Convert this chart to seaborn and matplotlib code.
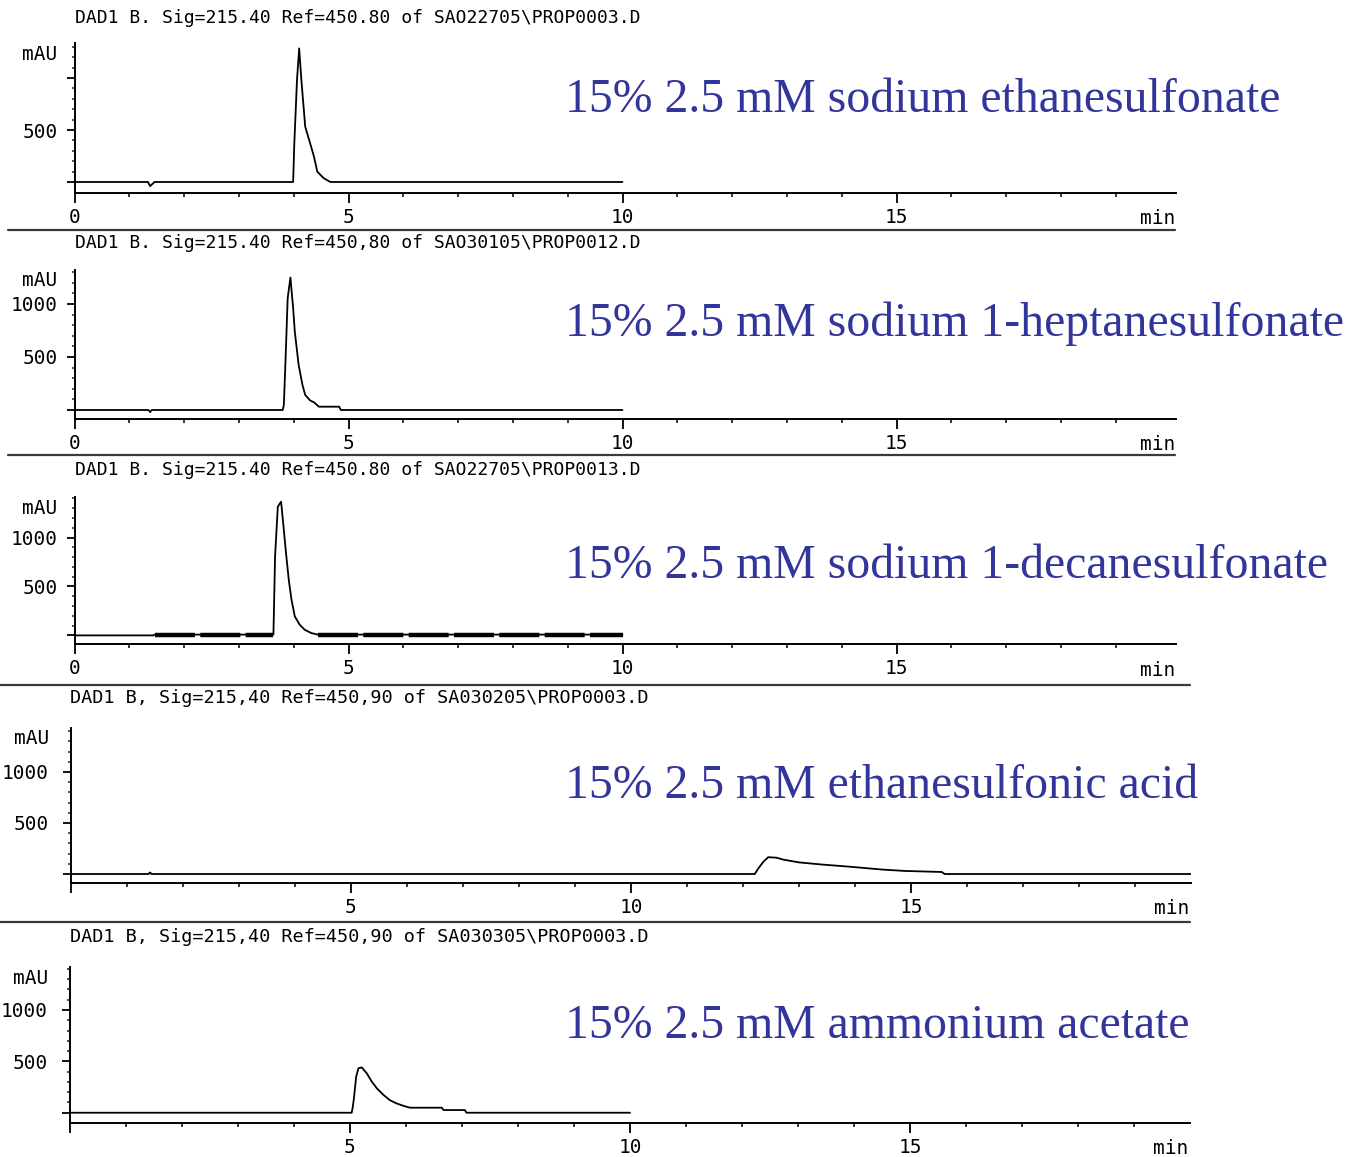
import numpy as np
import matplotlib
matplotlib.use("Agg")
import matplotlib.pyplot as plt
from matplotlib.lines import Line2D
from matplotlib.ticker import FixedLocator
import seaborn as sns

# ---- chromatogram traces: retention time (min) and absorbance (mAU) ----
time_ethanesulfonate = [0.0, 1.34, 1.38, 1.43, 1.46, 3.99, 4.01, 4.06, 4.10, 4.14,
                        4.21, 4.30, 4.37, 4.43, 4.55, 4.67, 10.0]
mau_ethanesulfonate = [0, 0, -40, -15, 0, 0, 356, 981, 1285, 981,
                       532, 372, 244, 100, 35, 0, 0]

time_heptanesulfonate = [0.0, 1.35, 1.38, 1.41, 3.80, 3.82, 3.85, 3.89, 3.94, 3.99,
                         4.02, 4.09, 4.16, 4.21, 4.30, 4.37, 4.46, 4.83, 4.86, 10.0]
mau_heptanesulfonate = [0, 0, -20, 0, 0, 47, 456, 1054, 1249, 959,
                        739, 425, 236, 142, 90, 72, 31, 31, 0, 0]

time_decanesulfonate = [0.0, 1.44, 1.46, 3.63, 3.66, 3.71, 3.77, 3.82, 3.86, 3.91,
                        3.96, 4.02, 4.11, 4.20, 4.32, 4.44, 10.0]
mau_decanesulfonate = [0, 0, 8, 8, 806, 1316, 1367, 1078, 840, 568,
                       364, 194, 109, 58, 24, 8, 8]

time_ethanesulfonic = [0.0, 1.38, 1.41, 1.44, 12.21, 12.27, 12.36, 12.45, 12.60, 12.72,
                       13.00, 13.43, 13.90, 14.50, 14.90, 15.55, 15.60, 20.0]
mau_ethanesulfonic = [0, 0, 15, 0, 0, 52, 118, 165, 160, 141,
                      114, 92, 72, 43, 30, 20, 0, 0]

time_ammonium = [0.0, 5.03, 5.05, 5.07, 5.11, 5.15, 5.21, 5.30, 5.39, 5.48,
                 5.60, 5.71, 5.83, 5.95, 6.07, 6.64, 6.67, 7.05, 7.08, 10.0]
mau_ammonium = [0, 0, 58, 140, 350, 432, 441, 383, 302, 237,
                172, 123, 91, 68, 49, 49, 26, 26, 0, 0]

# ---- text ----
run_headers = [
    "DAD1 B. Sig=215.40 Ref=450.80 of SAO22705\\PROP0003.D",
    "DAD1 B. Sig=215.40 Ref=450,80 of SAO30105\\PROP0012.D",
    "DAD1 B. Sig=215.40 Ref=450.80 of SAO22705\\PROP0013.D",
    "DAD1 B, Sig=215,40 Ref=450,90 of SA030205\\PROP0003.D",
    "DAD1 B, Sig=215,40 Ref=450,90 of SA030305\\PROP0003.D",
]
mobile_phases = [
    "15% 2.5 mM sodium ethanesulfonate",
    "15% 2.5 mM sodium 1-heptanesulfonate",
    "15% 2.5 mM sodium 1-decanesulfonate",
    "15% 2.5 mM ethanesulfonic acid",
    "15% 2.5 mM ammonium acetate",
]
x_major_ticks = [0, 5, 10, 15]
x_minor_ticks = [1, 2, 3, 4, 6, 7, 8, 9, 11, 12, 13, 14, 16, 17, 18, 19]
x_tick_labels_full = ["0", "5", "10", "15"]
x_tick_labels_nozero = ["", "5", "10", "15"]
y_major_ticks = [0, 500, 1000]
y_minor_ticks = [100, 200, 300, 400, 600, 700, 800, 900, 1100, 1200, 1300, 1400]
y_tick_labels_first = ["", "500", ""]
y_tick_labels = ["", "500", "1000"]

traces = [
    (time_ethanesulfonate, mau_ethanesulfonate),
    (time_heptanesulfonate, mau_heptanesulfonate),
    (time_decanesulfonate, mau_decanesulfonate),
    (time_ethanesulfonic, mau_ethanesulfonic),
    (time_ammonium, mau_ammonium),
]

# ---- styling ----
sns.set_theme(style="ticks")
plt.rcParams["font.family"] = ["DejaVu Sans Mono", "DejaVu Sans"]
plt.rcParams["axes.linewidth"] = 1.4
plt.rcParams["axes.edgecolor"] = "black"

W, H = 1351, 1157
fig = plt.figure(figsize=(W / 100, H / 100), dpi=100)
fig.patch.set_facecolor("white")

# panel geometry in pixels: left edge, x-axis row, top of y-axis, px per minute,
# x range, y range, y label pad, header row, text baseline row
panels = [
    dict(x0=74.5, yb=193, yt=43, ppm=54.8, xmax=20.1, ylim=(-106, 1337), ypad=6.5,
         head_x=75, head_y=18, head_fs=13, note_y=112, min_dx=-18, ylab_dx=-17, zero=True),
    dict(x0=74.5, yb=419, yt=270, ppm=54.8, xmax=20.1, ylim=(-85, 1320), ypad=6.5,
         head_x=75, head_y=243, head_fs=13, note_y=336, min_dx=-18, ylab_dx=-17, zero=True),
    dict(x0=74.5, yb=644, yt=497, ppm=54.8, xmax=20.1, ylim=(-88, 1415), ypad=6.5,
         head_x=75, head_y=470, head_fs=13, note_y=578, min_dx=-18, ylab_dx=-17, zero=True),
    dict(x0=71, yb=883, yt=728, ppm=56.0, xmax=20.0, ylim=(-88, 1431), ypad=10,
         head_x=70, head_y=698, head_fs=13.3, note_y=798, min_dx=-19, ylab_dx=-22, zero=False),
    dict(x0=70, yb=1122.7, yt=967, ppm=56.0, xmax=20.0, ylim=(-97, 1418), ypad=10,
         head_x=70, head_y=937, head_fs=13.3, note_y=1038, min_dx=-19, ylab_dx=-22, zero=False),
]

ink = "black"
note_color = "#32359a"

for i, (p, (t, a)) in enumerate(zip(panels, traces)):
    width = p["xmax"] * p["ppm"]
    ax = fig.add_axes([p["x0"] / W, 1 - p["yb"] / H, width / W, (p["yb"] - p["yt"]) / H])
    ax.set_facecolor("none")

    sns.lineplot(x=t, y=a, ax=ax, color=ink, linewidth=1.3,
                 estimator=None, sort=False)

    # the decanesulfonate baseline is heavy and broken up by detector noise
    if i == 2:
        tt = np.asarray(t, dtype=float)
        aa = np.asarray(a, dtype=float)
        for lo, hi in [(1.46, 3.63), (4.44, 10.0)]:
            m = (tt >= lo) & (tt <= hi)
            sns.lineplot(x=tt[m], y=aa[m] - 2, ax=ax, color=ink, linewidth=3.2,
                         estimator=None, sort=False)
            ax.lines[-1].set_dashes([9, 1.2])

    ax.set_xlim(0, p["xmax"])
    ax.set_ylim(*p["ylim"])
    ax.set_xlabel("")
    ax.set_ylabel("")
    for side in ("top", "right"):
        ax.spines[side].set_visible(False)

    ax.xaxis.set_major_locator(FixedLocator(x_major_ticks))
    ax.set_xticklabels(x_tick_labels_full if p["zero"] else x_tick_labels_nozero)
    ax.xaxis.set_minor_locator(FixedLocator(x_minor_ticks))
    ax.yaxis.set_major_locator(FixedLocator(y_major_ticks))
    ax.set_yticklabels(y_tick_labels_first if i == 0 else y_tick_labels)
    ax.yaxis.set_minor_locator(FixedLocator([v for v in y_minor_ticks if v < p["ylim"][1]]))

    ax.tick_params(axis="x", which="major", direction="out", length=7.2, width=1.3,
                   pad=3.8, labelsize=14, colors=ink)
    ax.tick_params(axis="x", which="minor", direction="out", length=2.6, width=1.3)
    ax.tick_params(axis="y", which="major", direction="out", length=5.8, width=1.3,
                   pad=p["ypad"], labelsize=14, colors=ink)
    ax.tick_params(axis="y", which="minor", direction="out", length=2.2, width=1.1)

    ax.annotate("min", xy=(1, 0), xycoords="axes fraction",
                xytext=(p["min_dx"], -26), textcoords="offset pixels",
                ha="center", va="center", fontsize=14, color=ink)
    ax.annotate("mAU", xy=(0, 1), xycoords="axes fraction",
                xytext=(p["ylab_dx"], -11), textcoords="offset pixels",
                ha="right", va="center", fontsize=14, color=ink)

    fig.text(p["head_x"] / W, 1 - p["head_y"] / H, run_headers[i],
             ha="left", va="center", fontsize=p["head_fs"], color=ink)
    fig.text(565 / W, 1 - p["note_y"] / H, mobile_phases[i],
             ha="left", va="baseline", fontsize=34.4, color=note_color,
             family=["Liberation Serif", "DejaVu Serif"])

# rules separating the stacked runs
for y, x_start, x_end in [(230, 8, 1175), (455, 8, 1175), (685, 0, 1190), (922, 0, 1190)]:
    fig.add_artist(Line2D([x_start / W, x_end / W], [1 - y / H, 1 - y / H],
                          transform=fig.transFigure, color="#3a3a3a", linewidth=1.6))

fig.savefig("out.png", dpi=100, facecolor="white")
